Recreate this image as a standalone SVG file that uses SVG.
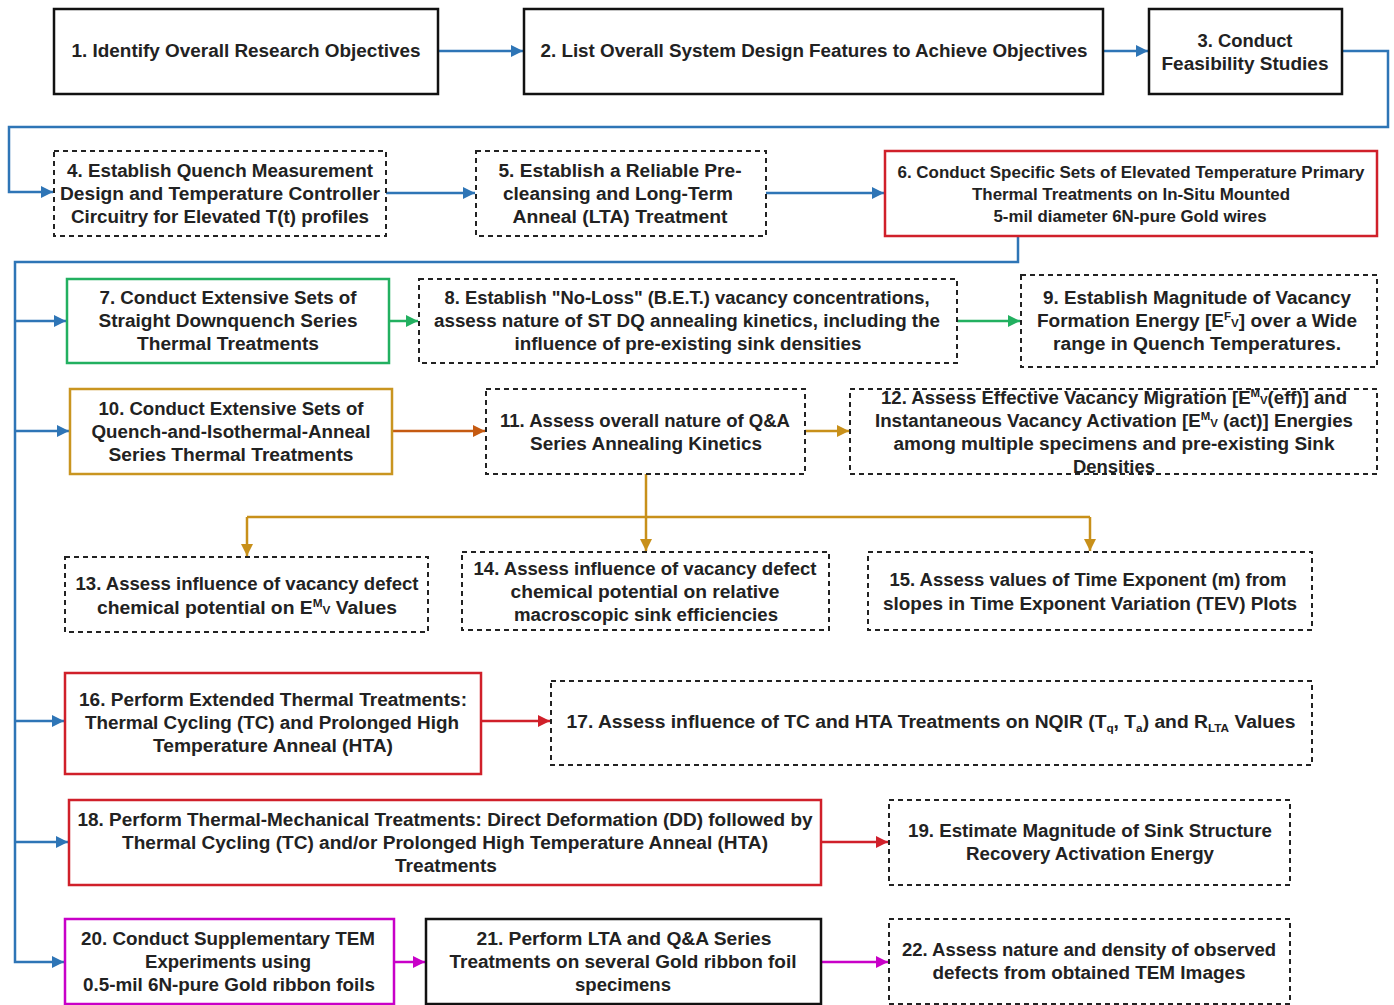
<svg xmlns="http://www.w3.org/2000/svg" width="1394" height="1005" viewBox="0 0 1394 1005">
  <style>
    .bx { fill: #ffffff; stroke-width: 2.5; }
    .solid { stroke: #111111; }
    .dash { stroke: #222222; stroke-width: 2; stroke-dasharray: 5 4; }
    .red { stroke: #D0202A; }
    .green { stroke: #22B060; }
    .gold { stroke: #C99520; }
    .mag { stroke: #C800C8; }
    .t { font-family: "Liberation Sans", Arial, sans-serif; font-size: 18px; font-weight: bold; fill: #222222; text-anchor: middle; }
    .s { font-size: 16px; }
    .sm { font-size: 11px; }
    .ln { fill: none; stroke-width: 2.5; }
    .cb { stroke: #2E75B6; }
    .cg { stroke: #22B060; }
    .co { stroke: #C55A11; }
    .cy { stroke: #C8901A; }
    .cr { stroke: #D0202A; }
    .cm { stroke: #C800C8; }
  </style>
  <defs>
    <marker id="aB" viewBox="0 0 10 10" refX="10" refY="5" markerWidth="12" markerHeight="12" markerUnits="userSpaceOnUse" orient="auto"><path d="M0,0 L10,5 L0,10 z" fill="#2E75B6"/></marker>
    <marker id="aG" viewBox="0 0 10 10" refX="10" refY="5" markerWidth="12" markerHeight="12" markerUnits="userSpaceOnUse" orient="auto"><path d="M0,0 L10,5 L0,10 z" fill="#22B060"/></marker>
    <marker id="aO" viewBox="0 0 10 10" refX="10" refY="5" markerWidth="12" markerHeight="12" markerUnits="userSpaceOnUse" orient="auto"><path d="M0,0 L10,5 L0,10 z" fill="#C55A11"/></marker>
    <marker id="aY" viewBox="0 0 10 10" refX="10" refY="5" markerWidth="12" markerHeight="12" markerUnits="userSpaceOnUse" orient="auto"><path d="M0,0 L10,5 L0,10 z" fill="#C8901A"/></marker>
    <marker id="aR" viewBox="0 0 10 10" refX="10" refY="5" markerWidth="12" markerHeight="12" markerUnits="userSpaceOnUse" orient="auto"><path d="M0,0 L10,5 L0,10 z" fill="#D0202A"/></marker>
    <marker id="aM" viewBox="0 0 10 10" refX="10" refY="5" markerWidth="12" markerHeight="12" markerUnits="userSpaceOnUse" orient="auto"><path d="M0,0 L10,5 L0,10 z" fill="#C800C8"/></marker>
  </defs>
  <rect width="1394" height="1005" fill="#ffffff"/>

  <!-- connectors -->
  <g id="connectors">
    <path class="ln cb" d="M438,51 H523" marker-end="url(#aB)"/>
    <path class="ln cb" d="M1103,51 H1148" marker-end="url(#aB)"/>
    <path class="ln cb" d="M1342,51 H1388 V127 H9 V192 H53" marker-end="url(#aB)"/>
    <path class="ln cb" d="M386,193 H475" marker-end="url(#aB)"/>
    <path class="ln cb" d="M766,193 H884" marker-end="url(#aB)"/>
    <path class="ln cb" d="M1018,236 V262 H15 V962 H64" marker-end="url(#aB)"/>
    <path class="ln cb" d="M15,321 H66" marker-end="url(#aB)"/>
    <path class="ln cb" d="M15,431 H69" marker-end="url(#aB)"/>
    <path class="ln cb" d="M15,721 H64" marker-end="url(#aB)"/>
    <path class="ln cb" d="M15,842 H68" marker-end="url(#aB)"/>
    <path class="ln cg" d="M389,321 H418" marker-end="url(#aG)"/>
    <path class="ln cg" d="M957,321 H1020" marker-end="url(#aG)"/>
    <path class="ln co" d="M392,431 H485" marker-end="url(#aO)"/>
    <path class="ln cy" d="M805,431 H849" marker-end="url(#aY)"/>
    <path class="ln cy" d="M646,474 V551" marker-end="url(#aY)"/>
    <path class="ln cy" d="M247,517 H1090"/>
    <path class="ln cy" d="M247,517 V556" marker-end="url(#aY)"/>
    <path class="ln cy" d="M1090,517 V551" marker-end="url(#aY)"/>
    <path class="ln cr" d="M481,721 H550" marker-end="url(#aR)"/>
    <path class="ln cr" d="M821,842 H888" marker-end="url(#aR)"/>
    <path class="ln cm" d="M394,962 H425" marker-end="url(#aM)"/>
    <path class="ln cm" d="M821,962 H888" marker-end="url(#aM)"/>
  </g>

  <g id="n1">
    <rect class="bx solid" x="54" y="9" width="384" height="85"/>
    <text class="t" x="246" y="57" textLength="349" lengthAdjust="spacingAndGlyphs">1. Identify Overall Research Objectives</text>
  </g>
  <g id="n2">
    <rect class="bx solid" x="524" y="9" width="579" height="85"/>
    <text class="t" x="814" y="57" textLength="547" lengthAdjust="spacingAndGlyphs">2. List Overall System Design Features to Achieve Objectives</text>
  </g>
  <g id="n3">
    <rect class="bx solid" x="1149" y="9" width="193" height="85"/>
    <text class="t" x="1245" y="47" textLength="95" lengthAdjust="spacingAndGlyphs">3. Conduct</text>
    <text class="t" x="1245" y="70" textLength="167" lengthAdjust="spacingAndGlyphs">Feasibility Studies</text>
  </g>
  <g id="n4">
    <rect class="bx dash" x="54" y="151" width="332" height="85"/>
    <text class="t" x="220" y="177" textLength="306" lengthAdjust="spacingAndGlyphs">4. Establish Quench Measurement</text>
    <text class="t" x="220" y="200" textLength="320" lengthAdjust="spacingAndGlyphs">Design and Temperature Controller</text>
    <text class="t" x="220" y="223" textLength="298" lengthAdjust="spacingAndGlyphs">Circuitry for Elevated T(t) profiles</text>
  </g>
  <g id="n5">
    <rect class="bx dash" x="476" y="151" width="290" height="85"/>
    <text class="t" x="620" y="177" textLength="243" lengthAdjust="spacingAndGlyphs">5. Establish a Reliable Pre-</text>
    <text class="t" x="618" y="200" textLength="230" lengthAdjust="spacingAndGlyphs">cleansing and Long-Term</text>
    <text class="t" x="620" y="223" textLength="215" lengthAdjust="spacingAndGlyphs">Anneal (LTA) Treatment</text>
  </g>
  <g id="n6">
    <rect class="bx red" x="885" y="151" width="492" height="85"/>
    <text class="t s" x="1131" y="178" textLength="467" lengthAdjust="spacingAndGlyphs">6. Conduct Specific Sets of Elevated Temperature Primary</text>
    <text class="t s" x="1131" y="200" textLength="318" lengthAdjust="spacingAndGlyphs">Thermal Treatments on In-Situ Mounted</text>
    <text class="t s" x="1130" y="222" textLength="273" lengthAdjust="spacingAndGlyphs">5-mil diameter 6N-pure Gold wires</text>
  </g>
  <g id="n7">
    <rect class="bx green" x="67" y="279" width="322" height="84"/>
    <text class="t" x="228" y="304" textLength="257" lengthAdjust="spacingAndGlyphs">7. Conduct Extensive Sets of</text>
    <text class="t" x="228" y="327" textLength="259" lengthAdjust="spacingAndGlyphs">Straight Downquench Series</text>
    <text class="t" x="228" y="350" textLength="182" lengthAdjust="spacingAndGlyphs">Thermal Treatments</text>
  </g>
  <g id="n8">
    <rect class="bx dash" x="419" y="279" width="538" height="84"/>
    <text class="t" x="687" y="304" textLength="485" lengthAdjust="spacingAndGlyphs">8. Establish "No-Loss" (B.E.T.) vacancy concentrations,</text>
    <text class="t" x="687" y="327" textLength="506" lengthAdjust="spacingAndGlyphs">assess nature of ST DQ annealing kinetics, including the</text>
    <text class="t" x="688" y="350" textLength="347" lengthAdjust="spacingAndGlyphs">influence of pre-existing sink densities</text>
  </g>
  <g id="n9">
    <rect class="bx dash" x="1021" y="275" width="356" height="92"/>
    <text class="t" x="1197" y="304" textLength="308" lengthAdjust="spacingAndGlyphs">9. Establish Magnitude of Vacancy</text>
    <text class="t" x="1197" y="327" textLength="320" lengthAdjust="spacingAndGlyphs">Formation Energy [E<tspan class="sm" dy="-7">F</tspan><tspan class="sm" dy="7">V</tspan>] over a Wide</text>
    <text class="t" x="1197" y="350" textLength="288" lengthAdjust="spacingAndGlyphs">range in Quench Temperatures.</text>
  </g>
  <g id="n10">
    <rect class="bx gold" x="70" y="389" width="322" height="85"/>
    <text class="t" x="231" y="415" textLength="265" lengthAdjust="spacingAndGlyphs">10. Conduct Extensive Sets of</text>
    <text class="t" x="231" y="438" textLength="279" lengthAdjust="spacingAndGlyphs">Quench-and-Isothermal-Anneal</text>
    <text class="t" x="231" y="461" textLength="245" lengthAdjust="spacingAndGlyphs">Series Thermal Treatments</text>
  </g>
  <g id="n11">
    <rect class="bx dash" x="486" y="389" width="319" height="85"/>
    <text class="t" x="645" y="427" textLength="290" lengthAdjust="spacingAndGlyphs">11. Assess overall nature of Q&amp;A</text>
    <text class="t" x="646" y="450" textLength="232" lengthAdjust="spacingAndGlyphs">Series Annealing Kinetics</text>
  </g>
  <g id="n12">
    <rect class="bx dash" x="850" y="389" width="527" height="85"/>
    <text class="t" x="1114" y="404" textLength="466" lengthAdjust="spacingAndGlyphs">12. Assess Effective Vacancy Migration [E<tspan class="sm" dy="-7">M</tspan><tspan class="sm" dy="7">V</tspan>(eff)] and</text>
    <text class="t" x="1114" y="427" textLength="478" lengthAdjust="spacingAndGlyphs">Instantaneous Vacancy Activation [E<tspan class="sm" dy="-7">M</tspan><tspan class="sm" dy="7">V</tspan> (act)] Energies</text>
    <text class="t" x="1114" y="450" textLength="441" lengthAdjust="spacingAndGlyphs">among multiple specimens and pre-existing Sink</text>
    <text class="t" x="1114" y="473" textLength="82" lengthAdjust="spacingAndGlyphs">Densities</text>
  </g>
  <g id="n13">
    <rect class="bx dash" x="65" y="557" width="363" height="75"/>
    <text class="t" x="247" y="590" textLength="343" lengthAdjust="spacingAndGlyphs">13. Assess influence of vacancy defect</text>
    <text class="t" x="247" y="614" textLength="300" lengthAdjust="spacingAndGlyphs">chemical potential on E<tspan class="sm" dy="-7">M</tspan><tspan class="sm" dy="7">V</tspan> Values</text>
  </g>
  <g id="n14">
    <rect class="bx dash" x="462" y="552" width="367" height="78"/>
    <text class="t" x="645" y="575" textLength="343" lengthAdjust="spacingAndGlyphs">14. Assess influence of vacancy defect</text>
    <text class="t" x="645" y="598" textLength="269" lengthAdjust="spacingAndGlyphs">chemical potential on relative</text>
    <text class="t" x="646" y="621" textLength="264" lengthAdjust="spacingAndGlyphs">macroscopic sink efficiencies</text>
  </g>
  <g id="n15">
    <rect class="bx dash" x="868" y="552" width="444" height="78"/>
    <text class="t" x="1088" y="586" textLength="397" lengthAdjust="spacingAndGlyphs">15. Assess values of Time Exponent (m) from</text>
    <text class="t" x="1090" y="610" textLength="414" lengthAdjust="spacingAndGlyphs">slopes in Time Exponent Variation (TEV) Plots</text>
  </g>
  <g id="n16">
    <rect class="bx red" x="65" y="673" width="416" height="101"/>
    <text class="t" x="273" y="706" textLength="388" lengthAdjust="spacingAndGlyphs">16. Perform Extended Thermal Treatments:</text>
    <text class="t" x="272" y="729" textLength="374" lengthAdjust="spacingAndGlyphs">Thermal Cycling (TC) and Prolonged High</text>
    <text class="t" x="273" y="752" textLength="240" lengthAdjust="spacingAndGlyphs">Temperature Anneal (HTA)</text>
  </g>
  <g id="n17">
    <rect class="bx dash" x="551" y="681" width="761" height="84"/>
    <text class="t" x="931" y="728" textLength="729" lengthAdjust="spacingAndGlyphs">17.  Assess influence of TC and HTA Treatments on NQIR (T<tspan class="sm" dy="4">q</tspan><tspan dy="-4">, T</tspan><tspan class="sm" dy="4">a</tspan><tspan dy="-4">) and R</tspan><tspan class="sm" dy="4">LTA</tspan><tspan dy="-4">  Values</tspan></text>
  </g>
  <g id="n18">
    <rect class="bx red" x="69" y="800" width="752" height="85"/>
    <text class="t" x="445" y="826" textLength="735" lengthAdjust="spacingAndGlyphs">18. Perform Thermal-Mechanical Treatments: Direct Deformation (DD) followed by</text>
    <text class="t" x="445" y="849" textLength="646" lengthAdjust="spacingAndGlyphs">Thermal Cycling (TC) and/or Prolonged High Temperature Anneal (HTA)</text>
    <text class="t" x="446" y="872" textLength="102" lengthAdjust="spacingAndGlyphs">Treatments</text>
  </g>
  <g id="n19">
    <rect class="bx dash" x="889" y="800" width="401" height="85"/>
    <text class="t" x="1090" y="837" textLength="364" lengthAdjust="spacingAndGlyphs">19. Estimate Magnitude of Sink Structure</text>
    <text class="t" x="1090" y="860" textLength="248" lengthAdjust="spacingAndGlyphs">Recovery Activation Energy</text>
  </g>
  <g id="n20">
    <rect class="bx mag" x="65" y="919" width="329" height="85"/>
    <text class="t" x="228" y="945" textLength="294" lengthAdjust="spacingAndGlyphs">20. Conduct Supplementary TEM</text>
    <text class="t" x="228" y="968" textLength="166" lengthAdjust="spacingAndGlyphs">Experiments using</text>
    <text class="t" x="229" y="991" textLength="292" lengthAdjust="spacingAndGlyphs">0.5-mil 6N-pure Gold ribbon foils</text>
  </g>
  <g id="n21">
    <rect class="bx solid" x="426" y="919" width="395" height="85"/>
    <text class="t" x="624" y="945" textLength="295" lengthAdjust="spacingAndGlyphs">21. Perform LTA and Q&amp;A Series</text>
    <text class="t" x="623" y="968" textLength="347" lengthAdjust="spacingAndGlyphs">Treatments on several Gold ribbon foil</text>
    <text class="t" x="623" y="991" textLength="96" lengthAdjust="spacingAndGlyphs">specimens</text>
  </g>
  <g id="n22">
    <rect class="bx dash" x="889" y="919" width="401" height="85"/>
    <text class="t" x="1089" y="956" textLength="374" lengthAdjust="spacingAndGlyphs">22. Assess nature and density of observed</text>
    <text class="t" x="1089" y="979" textLength="313" lengthAdjust="spacingAndGlyphs">defects from obtained TEM Images</text>
  </g>
</svg>
